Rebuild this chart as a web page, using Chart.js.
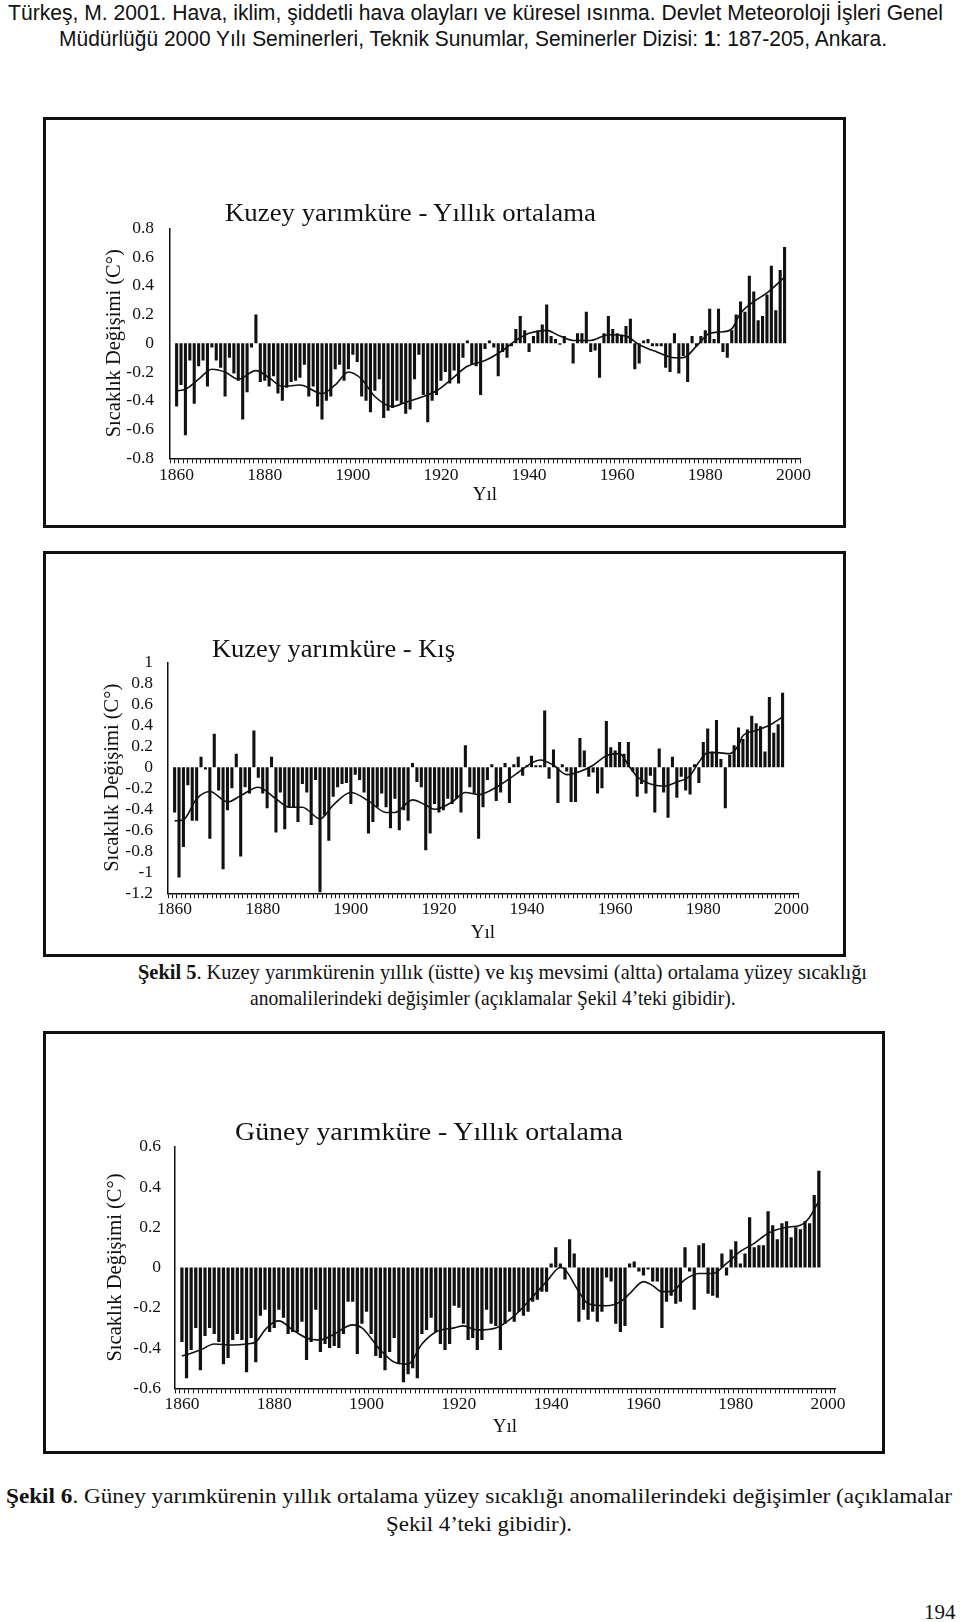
<!DOCTYPE html>
<html lang="tr">
<head>
<meta charset="utf-8">
<title>Şekil 5 - Şekil 6</title>
<script src="https://cdn.jsdelivr.net/npm/chart.js@4.4.0/dist/chart.umd.min.js"></script>
<style>
  html, body { margin: 0; padding: 0; background: #fff; }
  body { width: 960px; height: 1622px; position: relative; overflow: hidden; color: #111; }
  .line { position: absolute; white-space: nowrap; transform-origin: 0 50%; }
  .sans { font-family: "Liberation Sans", Arial, sans-serif; font-size: 22px; line-height: 26px; }
  .serif { font-family: "Liberation Serif", "Times New Roman", serif; font-size: 21px; line-height: 26px; }
  .ctitle { font-family: "Liberation Serif", "Times New Roman", serif; font-size: 26px; line-height: 30px; }
  .box { position: absolute; border: 3px solid #111; box-sizing: border-box; }
  canvas { position: absolute; }
</style>
</head>
<body>

<div class="line sans" style="left:8px; top:0px;" data-w="935">Türkeş, M. 2001. Hava, iklim, şiddetli hava olayları ve küresel ısınma. Devlet Meteoroloji İşleri Genel</div>
<div class="line sans" style="left:59px; top:26px;" data-w="828">Müdürlüğü 2000 Yılı Seminerleri, Teknik Sunumlar, Seminerler Dizisi: <b>1</b>: 187-205, Ankara.</div>

<div class="box" style="left:43px; top:117px; width:803px; height:411px;"></div>
<canvas id="chartNhAnnual" width="780" height="330" style="left:60px; top:190px;"></canvas>
<div class="line ctitle" style="left:225px; top:198px;" data-w="371">Kuzey yarımküre - Yıllık ortalama</div>

<div class="box" style="left:43px; top:551px; width:803px; height:406px;"></div>
<canvas id="chartNhWinter" width="780" height="330" style="left:60px; top:625px;"></canvas>
<div class="line ctitle" style="left:212px; top:634px;" data-w="243">Kuzey yarımküre - Kış</div>

<div class="line serif" style="left:138px; top:959px;" data-w="729"><b>Şekil 5</b>. Kuzey yarımkürenin yıllık (üstte) ve kış mevsimi (altta) ortalama yüzey sıcaklığı</div>
<div class="line serif" style="left:250px; top:985px;" data-s="0.93">anomalilerindeki değişimler (açıklamalar Şekil 4’teki gibidir).</div>

<div class="box" style="left:43px; top:1031px; width:842px; height:423px;"></div>
<canvas id="chartShAnnual" width="800" height="340" style="left:60px; top:1105px;"></canvas>
<div class="line ctitle" style="left:235px; top:1117px;" data-w="388">Güney yarımküre - Yıllık ortalama</div>

<div class="line serif" style="left:6px; top:1483px;" data-w="946"><b>Şekil 6</b>. Güney yarımkürenin yıllık ortalama yüzey sıcaklığı anomalilerindeki değişimler (açıklamalar</div>
<div class="line serif" style="left:386px; top:1511px;" data-w="186">Şekil 4’teki gibidir).</div>

<div class="line serif" style="left:924px; top:1599px;">194</div>

<script>
// ---- veriler (1860-1998) ----
const firstYear = 1860;
const tickYears = [1860, 1880, 1900, 1920, 1940, 1960, 1980, 2000];

// Kuzey yarımküre - yıllık ortalama
const nhAnnual = [
  -0.44, -0.29, -0.64, -0.12, -0.42, -0.16, -0.12, -0.30, -0.03, -0.12,
  -0.17, -0.37, -0.10, -0.21, -0.26, -0.53, -0.34, -0.03,  0.20, -0.27,
  -0.26, -0.30, -0.23, -0.35, -0.40, -0.31, -0.27, -0.26, -0.24, -0.15,
  -0.37, -0.30, -0.44, -0.53, -0.40, -0.37, -0.18, -0.15, -0.26, -0.18,
  -0.08, -0.13, -0.37, -0.40, -0.48, -0.33, -0.25, -0.52, -0.47, -0.45,
  -0.40, -0.42, -0.49, -0.46, -0.25, -0.08, -0.36, -0.55, -0.40, -0.36,
  -0.26, -0.20, -0.28, -0.19, -0.28, -0.10,  0.02, -0.15, -0.16, -0.36,
  -0.04,  0.02, -0.03, -0.23, -0.06, -0.10, -0.02,  0.10,  0.19,  0.09,
  -0.06,  0.05,  0.08,  0.13,  0.27,  0.05,  0.03, -0.01,  0.05,  0.00,
  -0.14,  0.07,  0.07,  0.22, -0.06, -0.05, -0.24,  0.07,  0.19,  0.10,
   0.07,  0.06,  0.12,  0.17, -0.18, -0.14,  0.02,  0.03, -0.02, -0.02,
  -0.02, -0.17, -0.20,  0.07, -0.21, -0.09, -0.27,  0.05, -0.02,  0.05,
   0.09,  0.24,  0.03,  0.24, -0.06, -0.10,  0.09,  0.20,  0.29,  0.22,
   0.47,  0.36,  0.16,  0.19,  0.34,  0.54,  0.23,  0.51,  0.67
];
const nhAnnualSmoothYears = [1860, 1862, 1865, 1868, 1871, 1874, 1878, 1881, 1884, 1888, 1893, 1896, 1899, 1902,
  1905, 1909, 1912, 1916, 1919, 1922, 1926, 1930, 1934, 1937, 1940, 1944, 1947, 1950, 1954, 1958, 1962, 1965,
  1969, 1973, 1975, 1978, 1981, 1984, 1986, 1988, 1991, 1994, 1998];
const nhAnnualSmooth = [-0.33, -0.32, -0.25, -0.18, -0.20, -0.25, -0.19, -0.24, -0.30, -0.29, -0.35, -0.29, -0.20, -0.25,
  -0.37, -0.44, -0.41, -0.37, -0.33, -0.26, -0.16, -0.12, -0.05, 0.02, 0.07, 0.09, 0.05, 0.02, 0.02, 0.06, 0.05, -0.01,
  -0.06, -0.10, -0.10, -0.02, 0.07, 0.08, 0.10, 0.21, 0.29, 0.35, 0.46];

// Kuzey yarımküre - kış
const nhWinter = [
  -0.43, -1.05, -0.76, -0.17, -0.51, -0.51,  0.10, -0.02, -0.68,  0.32,
  -0.22, -0.97, -0.41, -0.20,  0.13, -0.85, -0.19, -0.25,  0.35, -0.10,
  -0.25, -0.39,  0.10, -0.62, -0.24, -0.59, -0.38, -0.38, -0.52, -0.16,
  -0.24, -0.55, -0.12, -1.19, -0.46, -0.70, -0.28, -0.19, -0.16, -0.15,
  -0.35, -0.07, -0.12, -0.24, -0.63, -0.52, -0.38, -0.25, -0.38, -0.58,
  -0.30, -0.60, -0.41, -0.51,  0.04, -0.14, -0.19, -0.79, -0.63, -0.35,
  -0.43, -0.41, -0.30, -0.35, -0.30, -0.43,  0.21, -0.19, -0.25, -0.68,
  -0.38, -0.12,  0.03, -0.32, -0.24,  0.04, -0.34,  0.03,  0.10, -0.08,
   0.02,  0.11,  0.02,  0.02,  0.54, -0.11,  0.17, -0.34,  0.03, -0.04,
  -0.33, -0.33,  0.28,  0.16, -0.09, -0.05, -0.25, -0.20,  0.44,  0.19,
   0.16,  0.24,  0.13,  0.24, -0.04, -0.28, -0.16, -0.25, -0.08, -0.43,
   0.18, -0.24, -0.48,  0.10, -0.29, -0.09, -0.22, -0.26,  0.03, -0.15,
   0.24,  0.37,  0.15,  0.45,  0.08, -0.39,  0.12,  0.21,  0.38,  0.27,
   0.36,  0.49,  0.42,  0.39,  0.15,  0.67,  0.33,  0.41,  0.71
];
const nhWinterSmoothYears = [1860, 1862, 1865, 1868, 1872, 1875, 1879, 1883, 1886, 1889, 1893, 1896, 1900, 1904,
  1908, 1910, 1914, 1917, 1919, 1923, 1926, 1929, 1933, 1937, 1941, 1943, 1946, 1949, 1952, 1955, 1958, 1961,
  1963, 1965, 1968, 1971, 1974, 1977, 1979, 1981, 1983, 1986, 1988, 1989, 1992, 1995, 1998];
const nhWinterSmooth = [-0.51, -0.50, -0.30, -0.23, -0.33, -0.27, -0.19, -0.30, -0.38, -0.38, -0.49, -0.36, -0.24, -0.32,
  -0.43, -0.43, -0.31, -0.36, -0.40, -0.33, -0.24, -0.26, -0.19, -0.08, 0.04, 0.07, 0.02, -0.07, -0.04, 0.02, 0.11, 0.13,
  0.02, -0.09, -0.16, -0.18, -0.14, -0.08, 0.05, 0.14, 0.14, 0.13, 0.21, 0.30, 0.35, 0.40, 0.48];

// Güney yarımküre - yıllık ortalama
const shAnnual = [
  -0.37, -0.55, -0.41, -0.30, -0.51, -0.34, -0.30, -0.33, -0.37, -0.48,
  -0.45, -0.36, -0.33, -0.36, -0.52, -0.35, -0.47, -0.24, -0.21, -0.32,
  -0.30, -0.21, -0.25, -0.33, -0.32, -0.32, -0.27, -0.46, -0.37, -0.21,
  -0.42, -0.38, -0.40, -0.39, -0.40, -0.33, -0.17, -0.17, -0.43, -0.28,
  -0.22, -0.33, -0.44, -0.45, -0.51, -0.42, -0.35, -0.48, -0.57, -0.53,
  -0.50, -0.55, -0.33, -0.31, -0.25, -0.32, -0.38, -0.41, -0.38, -0.19,
  -0.20, -0.28, -0.36, -0.35, -0.41, -0.36, -0.21, -0.28, -0.29, -0.41,
  -0.28, -0.22, -0.27, -0.22, -0.24, -0.22, -0.17, -0.16, -0.12, -0.12,
   0.02,  0.10,  0.02, -0.06,  0.14,  0.07, -0.27, -0.21, -0.26, -0.22,
  -0.27, -0.22, -0.05, -0.07, -0.28, -0.32, -0.29,  0.02,  0.03, -0.02,
  -0.04, -0.01, -0.07, -0.07, -0.30, -0.17, -0.14, -0.18, -0.17,  0.10,
  -0.02, -0.21,  0.11,  0.12, -0.13, -0.14, -0.15,  0.07, -0.04,  0.09,
   0.13,  0.02,  0.07,  0.25,  0.10,  0.11,  0.11,  0.28,  0.21,  0.14,
   0.22,  0.23,  0.15,  0.20,  0.19,  0.23,  0.22,  0.36,  0.48
];
const shAnnualSmoothYears = [1860, 1864, 1867, 1871, 1874, 1876, 1878, 1880, 1881, 1884, 1887, 1890, 1893, 1897,
  1899, 1903, 1906, 1909, 1912, 1915, 1919, 1921, 1924, 1928, 1932, 1935, 1939, 1942, 1943, 1946, 1948, 1952,
  1955, 1957, 1960, 1962, 1964, 1966, 1969, 1972, 1975, 1978, 1981, 1984, 1987, 1991, 1994, 1996, 1998];
const shAnnualSmooth = [-0.44, -0.41, -0.38, -0.385, -0.38, -0.37, -0.31, -0.27, -0.265, -0.31, -0.35, -0.36, -0.33, -0.285,
  -0.30, -0.41, -0.47, -0.48, -0.38, -0.32, -0.30, -0.29, -0.31, -0.30, -0.24, -0.17, -0.07, 0.00, -0.01, -0.12, -0.18, -0.19,
  -0.17, -0.13, -0.07, -0.09, -0.12, -0.12, -0.06, -0.03, -0.03, 0.02, 0.08, 0.12, 0.17, 0.20, 0.21, 0.25, 0.33];

// ---- grafikler ----
const serif = '"Liberation Serif", "Times New Roman", serif';
const ink = '#111';

function yearLabels(a, b) {
  const r = [];
  for (let y = a; y <= b; y++) r.push(String(y));
  return r;
}

function buildChart(id, bars, smoothYears, smooth, o) {
  const labels = yearLabels(o.axisStart, o.axisEnd);
  const barData = labels.map(function (l) {
    const i = Number(l) - firstYear;
    return i >= 0 && i < bars.length ? bars[i] : null;
  });
  const curve = smoothYears.map(function (y, i) { return { x: String(y), y: smooth[i] }; });

  return new Chart(document.getElementById(id), {
    type: 'bar',
    data: {
      labels: labels,
      datasets: [
        { type: 'line', data: curve, borderColor: ink, borderWidth: 1.6, pointRadius: 0,
          cubicInterpolationMode: 'monotone', spanGaps: true, order: 0 },
        { type: 'bar', data: barData, backgroundColor: ink, barPercentage: 0.7, categoryPercentage: 1, order: 1 }
      ]
    },
    options: {
      responsive: false,
      animation: false,
      devicePixelRatio: 1,
      layout: { padding: o.pad },
      plugins: { legend: { display: false }, tooltip: { enabled: false } },
      scales: {
        x: {
          grid: { drawOnChartArea: false, drawTicks: true, tickLength: 5, color: ink, lineWidth: 1 },
          border: { display: true, color: ink, width: 1.5 },
          ticks: {
            autoSkip: false, maxRotation: 0, minRotation: 0, padding: o.xPad, color: ink,
            font: { family: serif, size: 17.5 },
            callback: function (v) {
              const y = Number(this.getLabelForValue(v));
              return tickYears.indexOf(y) >= 0 ? String(y) : '';
            }
          },
          title: { display: true, text: 'Yıl', color: ink, font: { family: serif, size: 19 },
                   padding: { top: 0, bottom: o.xTitlePad } },
          afterFit: function (s) { s.height = o.xHeight; }
        },
        y: {
          min: o.min, max: o.max,
          grid: { display: false, drawTicks: false },
          border: { display: true, color: ink, width: 1.5 },
          ticks: {
            stepSize: 0.2, autoSkip: false, padding: o.yPad, color: ink, font: { family: serif, size: 17.5 },
            callback: function (v) { return String(Number(v.toFixed(1))); }
          },
          title: { display: true, text: 'Sıcaklık Değişimi (C°)', color: ink, font: { family: serif, size: 20.5 },
                   padding: { top: o.yTitlePad, bottom: 0 } },
          afterFit: function (s) { s.width = o.yWidth; }
        }
      }
    }
  });
}

function fitLines() {
  document.querySelectorAll('[data-w]').forEach(function (el) {
    const w = el.getBoundingClientRect().width;
    if (w > 0) el.style.transform = 'scaleX(' + (Number(el.dataset.w) / w) + ')';
  });
  document.querySelectorAll('[data-s]').forEach(function (el) {
    el.style.transform = 'scaleX(' + el.dataset.s + ')';
  });
}

function drawAll() {
  fitLines();
  buildChart('chartNhAnnual', nhAnnual, nhAnnualSmoothYears, nhAnnualSmooth, {
    axisStart: 1859, axisEnd: 2001, min: -0.8, max: 0.8,
    pad: { left: 0, top: 38.3, right: 40, bottom: 0 },
    yWidth: 110, xHeight: 61.7, xPad: 2, yPad: 16, xTitlePad: 14, yTitlePad: 42
  });
  buildChart('chartNhWinter', nhWinter, nhWinterSmoothYears, nhWinterSmooth, {
    axisStart: 1859, axisEnd: 2001, min: -1.2, max: 1,
    pad: { left: 0, top: 37.3, right: 42, bottom: 0 },
    yWidth: 108, xHeight: 61.7, xPad: 1, yPad: 15, xTitlePad: 10.6, yTitlePad: 40
  });
  buildChart('chartShAnnual', shAnnual, shAnnualSmoothYears, shAnnualSmooth, {
    axisStart: 1859, axisEnd: 2001, min: -0.6, max: 0.6,
    pad: { left: 0, top: 41.7, right: 25, bottom: 0 },
    yWidth: 115, xHeight: 56.7, xPad: 1, yPad: 14, xTitlePad: 7, yTitlePad: 43
  });
}

if (document.fonts && document.fonts.ready) {
  document.fonts.ready.then(drawAll);
} else {
  drawAll();
}
</script>
</body>
</html>
